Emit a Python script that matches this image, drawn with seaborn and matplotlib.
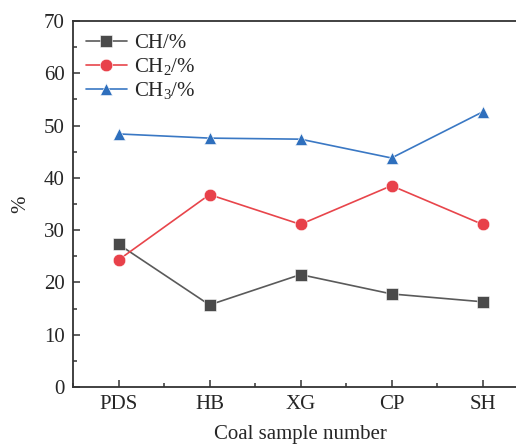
import matplotlib
matplotlib.use("Agg")

import matplotlib.pyplot as plt
import seaborn as sns
import pandas as pd
from matplotlib.ticker import MultipleLocator

# data
samples = ["PDS", "HB", "XG", "CP", "SH"]
ch = [27.3, 15.7, 21.5, 17.8, 16.3]
ch2 = [24.3, 36.8, 31.1, 38.5, 31.1]
ch3 = [48.4, 47.6, 47.4, 43.8, 52.6]

series_names = ["CH/%", r"CH$_\mathrm{2}$/%", r"CH$_\mathrm{3}$/%"]

df = pd.DataFrame({
    "sample": samples * 3,
    "value": ch + ch2 + ch3,
    "series": [series_names[0]] * 5 + [series_names[1]] * 5 + [series_names[2]] * 5,
})

sns.set_style("ticks")
plt.rcParams["font.family"] = ["Liberation Serif", "DejaVu Serif"]
plt.rcParams["mathtext.fontset"] = "custom"
plt.rcParams["mathtext.rm"] = "Liberation Serif"
plt.rcParams["mathtext.it"] = "Liberation Serif:italic"

line_colors = {series_names[0]: "#5a5a5a", series_names[1]: "#e8454b", series_names[2]: "#3a78c4"}
marker_colors = ["#4a4a4a", "#e8414a", "#2e6fbd"]
markers = ["s", "o", "^"]

fig = plt.figure(figsize=(5.16, 4.46), dpi=100)
ax = fig.add_axes([73 / 516, 1 - 387 / 446, 455 / 516, 366 / 446])

for name, mk, mc in zip(series_names, markers, marker_colors):
    sub = df[df["series"] == name]
    sns.lineplot(data=sub, x="sample", y="value", ax=ax, color=line_colors[name],
                 linewidth=1.2, marker=mk, markersize=8.5 if mk != "o" else 9,
                 markerfacecolor=mc, markeredgecolor="white", markeredgewidth=0.4,
                 label=name, sort=False)

ax.set_xlim(-0.5, 4.5)
ax.set_ylim(0, 70)
ax.yaxis.set_major_locator(MultipleLocator(10))
ax.yaxis.set_minor_locator(MultipleLocator(5))
ax.xaxis.set_minor_locator(MultipleLocator(0.5))
ax.tick_params(which="both", direction="in", width=1.1, labelsize=15, color="#333333")
ax.tick_params(which="major", length=5, pad=6)
ax.tick_params(which="minor", length=3)
ax.tick_params(axis="x", which="minor", bottom=True)
for s in ["left", "bottom", "top"]:
    ax.spines[s].set_linewidth(1.3)
    ax.spines[s].set_color("#333333")
ax.spines["right"].set_visible(False)

ax.set_xlabel("Coal sample number", fontsize=15, labelpad=8)
ax.set_ylabel("%", fontsize=15, labelpad=10)

ax.legend(loc="upper left", frameon=False, fontsize=15, handlelength=2.0,
          handletextpad=0.35, labelspacing=0.15, borderaxespad=0.2,
          bbox_to_anchor=(0.0, 1.0))

fig.savefig("out.png", dpi=100)
plt.close(fig)
